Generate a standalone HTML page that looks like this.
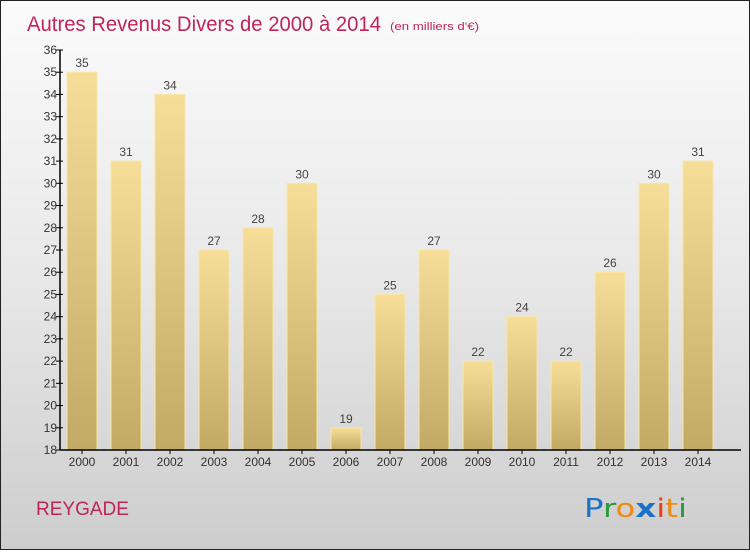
<!DOCTYPE html>
<html><head><meta charset="utf-8"><style>
html,body{margin:0;padding:0}
body{width:750px;height:550px;overflow:hidden;font-family:"Liberation Sans",sans-serif}
#c{position:absolute;left:0;top:0;width:748px;height:548px;border:1px solid #222;background:linear-gradient(#fbfbfb 0%,#e8e8e8 50%,#cdcdcd 100%)}
</style></head><body>
<div id="c">
<svg width="748" height="548" id="svg">
<defs><linearGradient id="bg" x1="0" y1="0" x2="0" y2="1"><stop offset="0" stop-color="#f6de98"/><stop offset="1" stop-color="#c2a964"/></linearGradient></defs>
<text x="26" y="30" font-size="21" textLength="354" lengthAdjust="spacingAndGlyphs" fill="#c0255a">Autres Revenus Divers de 2000 à 2014</text>
<text x="389" y="29" font-size="11" textLength="89" lengthAdjust="spacingAndGlyphs" fill="#c0255a">(en milliers d'€)</text>
<text x="35" y="514" font-size="19" fill="#c0255a">REYGADE</text>
<g id="plot"></g>
<g font-size="26" font-family="'DejaVu Sans',sans-serif">
<text x="583" y="516" textLength="103" lengthAdjust="spacingAndGlyphs"><tspan fill="#1a73c8">P</tspan><tspan fill="#2a9a3a">r</tspan><tspan fill="#f08a10">o</tspan><tspan fill="#1a73c8" font-weight="bold">x</tspan><tspan fill="#e84010">i</tspan><tspan fill="#f08a10">t</tspan><tspan fill="#2a9a3a">i</tspan></text></g>
</svg></div>
<script>
const years=["2000","2001","2002","2003","2004","2005","2006","2007","2008","2009","2010","2011","2012","2013","2014"];
const values=[35,31,34,27,28,30,19,25,27,22,24,22,26,30,31];
const yTicks=[18,19,20,21,22,23,24,25,26,27,28,29,30,31,32,33,34,35,36];
const NS="http://www.w3.org/2000/svg";
const g=document.getElementById('plot');
const x0=59,y0=449,yTop=49,yMin=18,yMax=36;
const y=v=>y0-(v-yMin)*(y0-yTop)/(yMax-yMin);
const xc=i=>81+i*44;
function mk(t,a){const e=document.createElementNS(NS,t);for(const k in a)e.setAttribute(k,a[k]);g.appendChild(e);return e;}
values.forEach((v,i)=>{
 const r=mk('rect',{x:xc(i)-15,y:y(v),width:30,height:y0-y(v),fill:'url(#bg)',stroke:'#f8e6a8','stroke-width':1});
 
 
 const t=mk('text',{x:xc(i),y:y(v)-5,'text-anchor':'middle','font-size':12,fill:'#444'});t.textContent=v;
 
 
 const xl=mk('text',{x:xc(i),y:y0+16,'text-anchor':'middle','font-size':12,fill:'#333'});xl.textContent=years[i];
 
 
 mk('line',{x1:xc(i),x2:xc(i),y1:y0,y2:y0+4,stroke:'#000'});
});
yTicks.forEach(v=>{
 mk('line',{x1:x0-4,x2:x0+3,y1:y(v),y2:y(v),stroke:'#000'});
 const t=mk('text',{x:x0-3,y:y(v)+4,'text-anchor':'end','font-size':12,fill:'#333'});t.textContent=v;
 
 
});
const ya=mk('line',{x1:x0,x2:x0,y1:yTop,y2:y0,stroke:'#000','stroke-width':1.5});


const xa=mk('line',{x1:x0,x2:740,y1:y0,y2:y0,stroke:'#000','stroke-width':1.5});


</script>
</body></html>
